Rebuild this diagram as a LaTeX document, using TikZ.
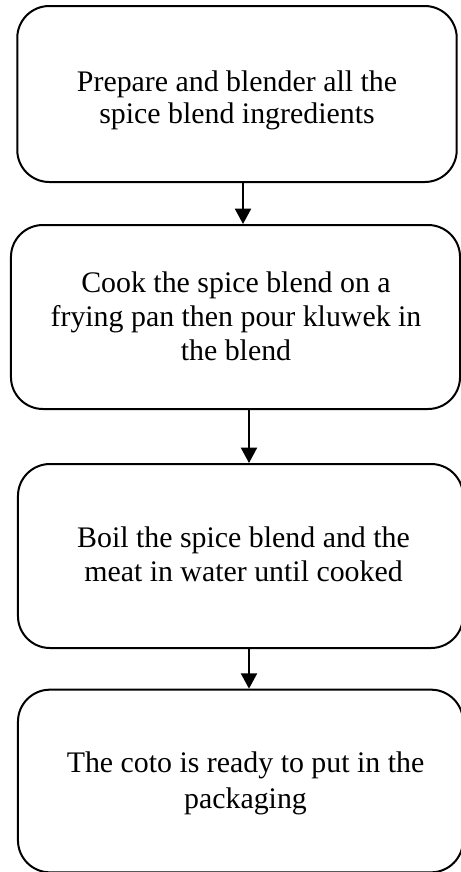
\documentclass[tikz,border=0pt]{standalone}
\usepackage{fontspec}
\setmainfont{Liberation Serif}
\usetikzlibrary{arrows.meta}
\begin{document}
\begin{tikzpicture}[x=0.75pt,y=-0.75pt,
  stepbox/.style={draw=black,line width=1.5pt,rounded corners=24pt,
    minimum width=#1,inner sep=0pt},
  steptext/.style={align=center,inner sep=0pt,anchor=base,
    font=\fontsize{22.4}{#1}\selectfont},
  flow/.style={line width=1.5pt,-{Triangle[length=11.5pt,width=12pt]}}]
  \useasboundingbox (0,0) rectangle (461,872);
  % process steps
  \node[stepbox=329.6pt,minimum height=132pt] (s1) at (237,94) {};
  \node[stepbox=336.8pt,minimum height=138pt] (s2) at (235.5,317) {};
  \node[stepbox=333.8pt,minimum height=138pt] (s3) at (240.5,556) {};
  \node[stepbox=333.8pt,minimum height=137pt] (s4) at (240.5,781) {};
  % step descriptions (anchored at the baseline of their last line)
  \node[steptext=24pt] (t1) at (237,123.5)
    {Prepare and blender all the\\spice blend ingredients};
  \node[steptext=25.5pt] (t2) at (236,360)
    {Cook the spice blend on a\\frying pan then pour kluwek in\\the blend};
  \node[steptext=25.5pt] (t3) at (243.5,581)
    {Boil the spice blend and the\\meat in water until cooked};
  \node[steptext=27pt] (t4) at (245.5,808)
    {The coto is ready to put in the\\packaging};
  % connectors
  \draw[flow] (s1.south -| 243,0) -- (s2.north -| 243,0);
  \draw[flow] (s2.south -| 249,0) -- (s3.north -| 249,0);
  \draw[flow] (s3.south -| 249,0) -- (s4.north -| 249,0);
\end{tikzpicture}
\end{document}
